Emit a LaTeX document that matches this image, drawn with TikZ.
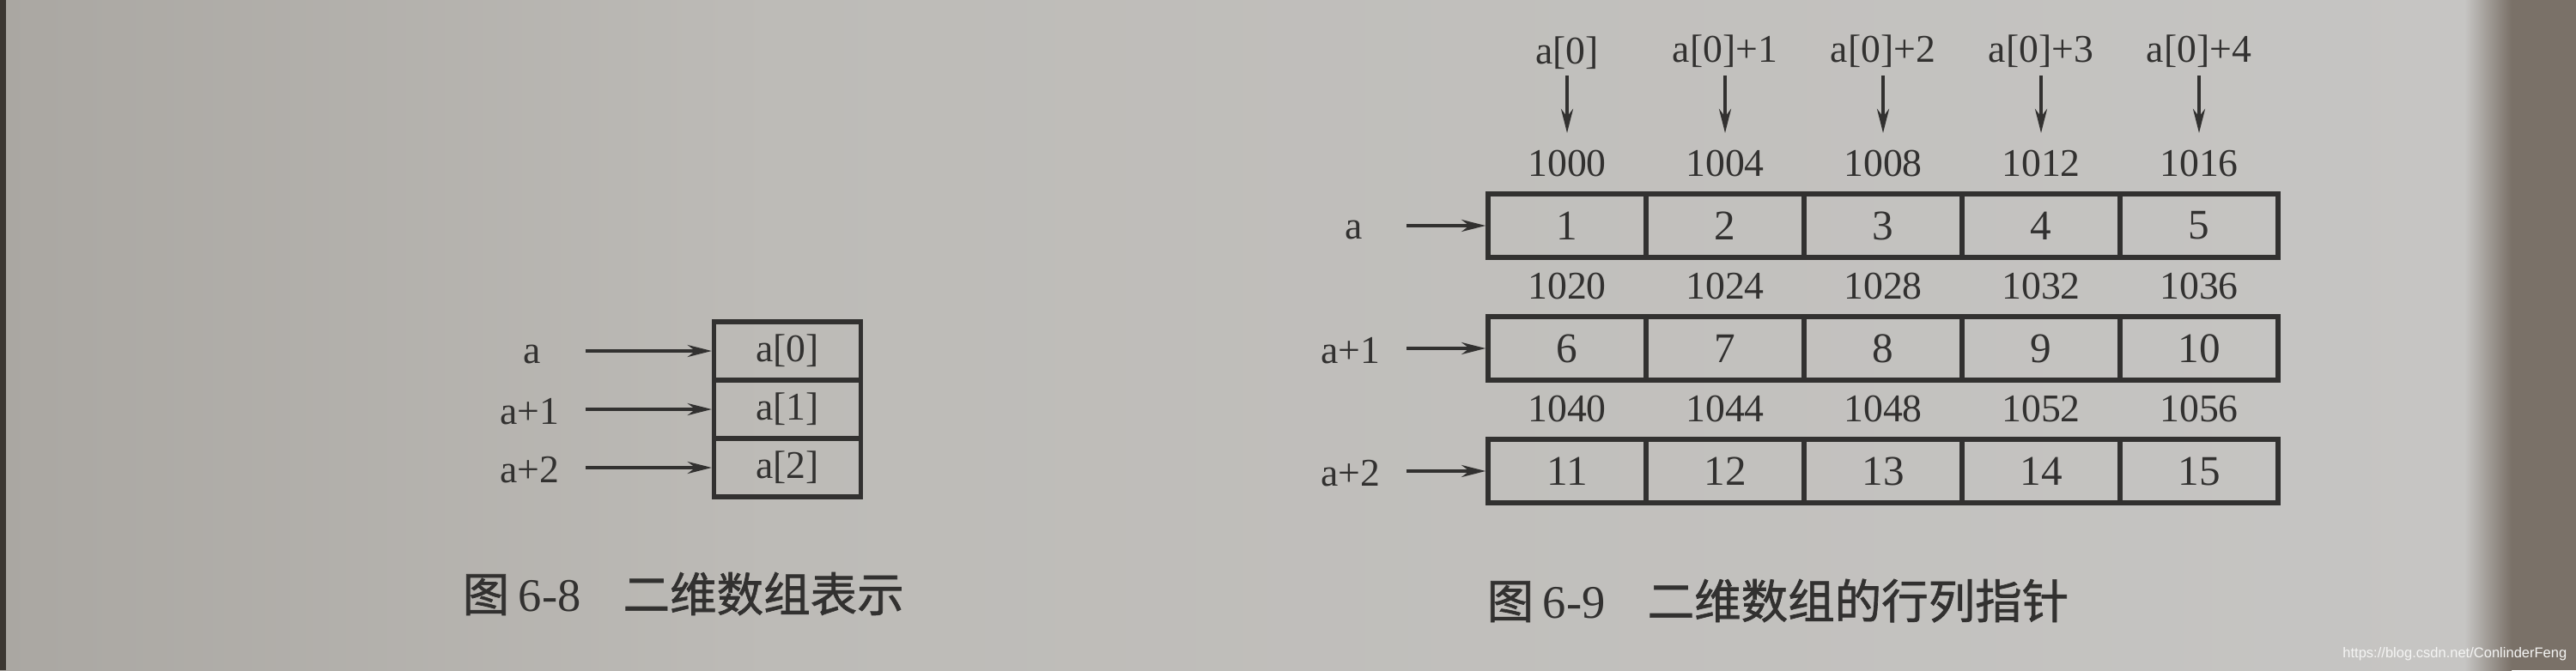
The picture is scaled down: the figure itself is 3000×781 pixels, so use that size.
\documentclass[tikz,border=0pt]{standalone}
\usepackage{fontspec}
\setmainfont{Liberation Serif}
\newfontfamily\cjk{Noto Sans CJK SC}[FakeBold=1.2]
\newfontfamily\wmfont{Liberation Sans}
\usetikzlibrary{arrows.meta}
\definecolor{paperleft}{RGB}{170,167,162}
\definecolor{paper}{RGB}{189,187,183}
\definecolor{paperright}{RGB}{198,197,195}
\definecolor{ink}{RGB}{50,49,48}
\definecolor{shadow}{RGB}{122,113,104}
\definecolor{edge}{RGB}{60,55,50}
\begin{document}
\begin{tikzpicture}[x=0.01cm,y=-0.01cm,
  cellbox/.style={draw=ink,line width=1.6pt,minimum width=1.84cm,minimum height=0.74cm,inner sep=0pt,font=\fontsize{14}{14}\selectfont,text=ink},
  elbox/.style={draw=ink,line width=1.5pt,minimum width=1.71cm,minimum height=0.68cm,inner sep=0pt,font=\fontsize{13}{13}\selectfont,text=ink},
  lbl/.style={inner sep=0pt,font=\fontsize{13}{13}\selectfont,text=ink},
  ptr/.style={draw=ink,line width=0.9pt,-{Stealth[length=8pt,width=4pt]}},
  captext/.style={inner sep=0pt,font=\fontsize{15.5}{15.5}\selectfont,text=ink,anchor=west}]
% background (photographed page)
\useasboundingbox (0,0) rectangle (3000,781);
\shade[left color=paperleft,right color=paper] (0,0) rectangle (900,781);
\shade[left color=paper,right color=paperright] (900,0) rectangle (2870,781);
\shade[left color=paperright,right color=shadow] (2870,0) rectangle (2925,781);
\fill[shadow] (2925,0) rectangle (3000,781);
\fill[edge] (0,0) rectangle (7,781);

% ---------- Figure 6-8 ----------
\node[elbox] (L0) at (917,409) {a[0]};
\node[elbox] (L1) at (917,477) {a[1]};
\node[elbox] (L2) at (917,545) {a[2]};
\node[lbl] (la0) at (620,413) {a};
\node[lbl] (la1) at (617,480) {a+1};
\node[lbl] (la2) at (617,548) {a+2};
\coordinate (ls0) at (682,409);
\coordinate (ls1) at (682,477);
\coordinate (ls2) at (682,545);
\draw[ptr] (ls0) -- (L0.west);
\draw[ptr] (ls1) -- (L1.west);
\draw[ptr] (ls2) -- (L2.west);
\node[captext] (cap1) at (538,692) {{\cjk 图}\hspace{3pt}6-8\hspace{14pt}{\cjk 二维数组表示}};

% ---------- Figure 6-9 ----------
\foreach \r/\yc in {0/263,1/406,2/549}{
  \foreach \c in {0,...,4}{
    \pgfmathtruncatemacro\v{5*\r+\c+1}
    \pgfmathtruncatemacro\ad{1000+20*\r+4*\c}
    \node[cellbox] (c\r\c) at ({1825+184*\c},\yc) {\v};
    \node[lbl] (ad\r\c) at ({1825+184*\c},{\yc-72}) {\ad};
  }
}
\node[lbl] (ra0) at (1577,268) {a};
\node[lbl] (ra1) at (1573,409) {a+1};
\node[lbl] (ra2) at (1573,552) {a+2};
\coordinate (rs0) at (1638,263);
\coordinate (rs1) at (1638,406);
\coordinate (rs2) at (1638,549);
\draw[ptr] (rs0) -- (c00.west);
\draw[ptr] (rs1) -- (c10.west);
\draw[ptr] (rs2) -- (c20.west);

\node[lbl] (t0) at (1825,62) {a[0]};
\foreach \c in {1,...,4}{
  \node[lbl] (t\c) at ({1825+184*\c},60) {a[0]+\c};
}
\foreach \c in {0,...,4}{
  \coordinate (ts\c) at ({1825+184*\c},88);
  \coordinate (te\c) at ({1825+184*\c},155);
  \draw[ptr] (ts\c) -- (te\c);
}
\node[captext] (cap2) at (1731,700) {{\cjk 图}\hspace{3pt}6-9\hspace{14pt}{\cjk 二维数组的行列指针}};

% watermark
\node[inner sep=0pt,anchor=east,font=\wmfont\fontsize{4.7}{5}\selectfont,text=white!85!paper] (wm) at (2990,762) {https://blog.csdn.net/ConlinderFeng};
\end{tikzpicture}
\end{document}
